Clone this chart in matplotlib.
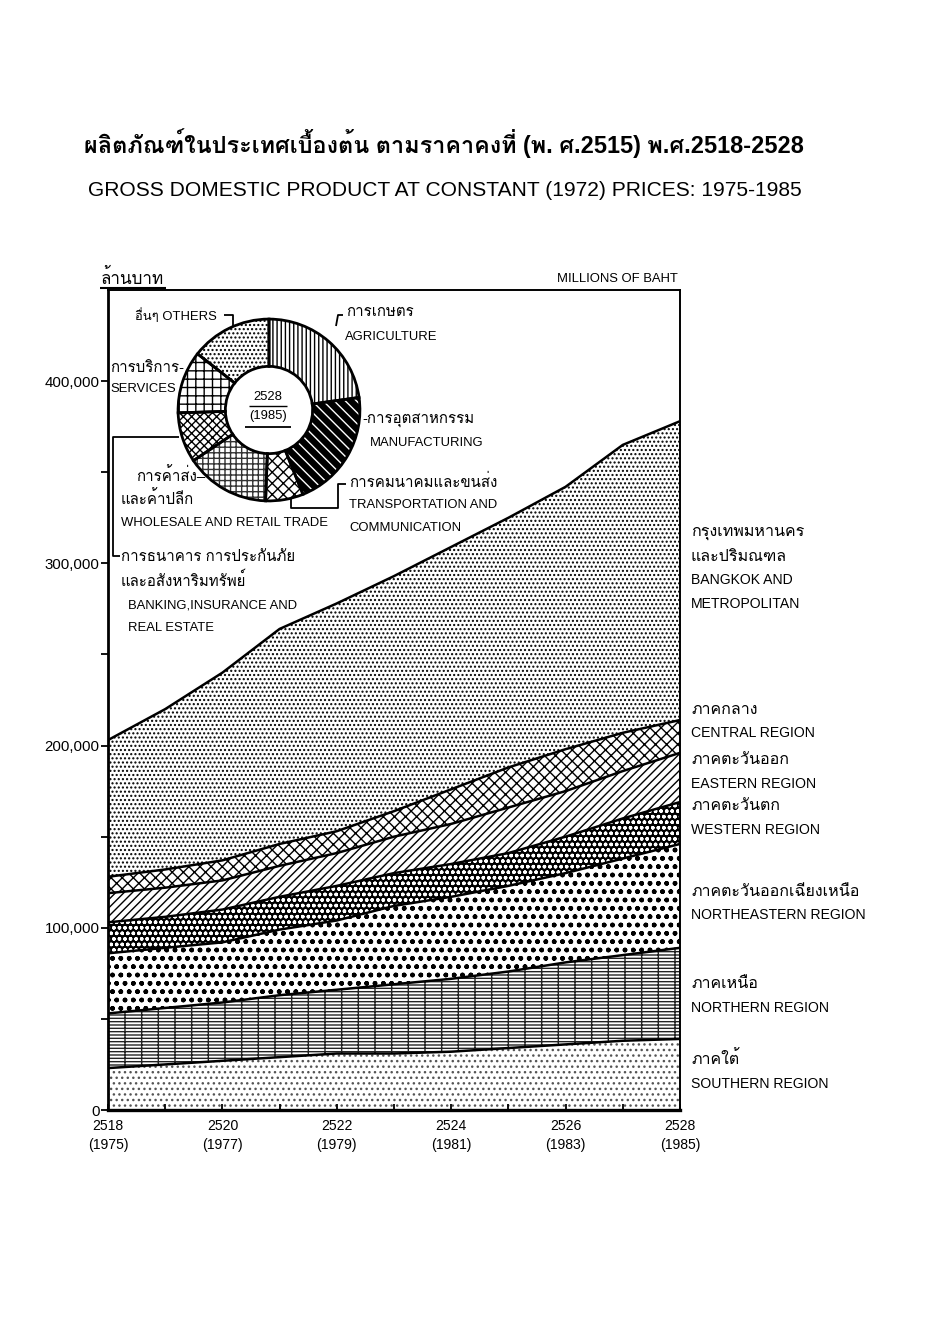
import numpy as np
import matplotlib
matplotlib.use("Agg")
import matplotlib.pyplot as plt
from matplotlib import font_manager as fm
from matplotlib.lines import Line2D
from matplotlib.patches import Wedge

# ---------------- data (millions of baht, constant 1972 prices) ----------------
years_be = [2518, 2519, 2520, 2521, 2522, 2523, 2524, 2525, 2526, 2527, 2528]
years_ce = [1975, 1976, 1977, 1978, 1979, 1980, 1981, 1982, 1983, 1984, 1985]

southern     = [23000, 25000, 27000, 29000, 31000, 31000, 32000, 34000, 36000, 38000, 39000]
northern     = [30000, 31000, 32000, 34000, 35000, 38000, 40000, 42000, 45000, 47000, 50000]
northeastern = [33000, 33000, 33000, 36000, 38000, 43000, 45000, 47000, 49000, 53000, 57000]
western      = [17000, 17000, 18000, 18000, 19000, 18000, 18000, 18000, 20000, 22000, 23000]
eastern      = [16000, 16000, 16000, 17000, 18000, 20000, 22000, 25000, 25000, 26000, 27000]
central      = [9000, 10000, 11000, 12000, 12000, 14000, 19000, 22000, 23000, 21000, 18000]
bangkok      = [75000, 88000, 103000, 118000, 125000, 129000, 133000, 137000, 144000, 158000, 164000]

region_th = ["ภาคใต้", "ภาคเหนือ", "ภาคตะวันออกเฉียงเหนือ", "ภาคตะวันตก",
             "ภาคตะวันออก", "ภาคกลาง", "กรุงเทพมหานคร\nและปริมณฑล"]
region_en = ["SOUTHERN REGION", "NORTHERN REGION", "NORTHEASTERN REGION", "WESTERN REGION",
             "EASTERN REGION", "CENTRAL REGION", "BANGKOK AND\nMETROPOLITAN"]

y_ticks = [0, 50000, 100000, 150000, 200000, 250000, 300000, 350000, 400000]
y_ticklabels = ["0", "", "100,000", "", "200,000", "", "300,000", "", "400,000"]

# 1985 (2528) sector shares, percent, clockwise from the top
sector_share = [22.8, 21.1, 6.7, 15.0, 8.9, 11.1, 14.4]
sector_th = ["การเกษตร", "การอุตสาหกรรม", "การคมนาคมและขนส่ง", "การค้าส่ง–\nและค้าปลีก",
             "การธนาคาร การประกันภัย\nและอสังหาริมทรัพย์", "การบริการ-", "อื่นๆ"]
sector_en = ["AGRICULTURE", "MANUFACTURING", "TRANSPORTATION AND\nCOMMUNICATION",
             "WHOLESALE AND RETAIL TRADE", "BANKING,INSURANCE AND\nREAL ESTATE", "SERVICES", "OTHERS"]

title_th = "ผลิตภัณฑ์ในประเทศเบื้องต้น ตามราคาคงที่ (พ. ศ.2515) พ.ศ.2518-2528"
title_en = "GROSS DOMESTIC PRODUCT AT CONSTANT (1972) PRICES: 1975-1985"

# ---------------- fonts ----------------
thai_fam = None
try:
    from matplotlib.ft2font import FT2Font
    for f in fm.fontManager.ttflist:
        try:
            ft = FT2Font(f.fname)
            if ft.get_char_index(0x0E01) and ft.get_char_index(0x0E32):
                thai_fam = f.name
                break
        except Exception:
            pass
except Exception:
    pass
FAM = ["Liberation Sans"] + ([thai_fam] if thai_fam else []) + ["DejaVu Sans"]
plt.rcParams["font.family"] = FAM
plt.rcParams["hatch.linewidth"] = 1.0

W, H, DPI = 941, 1337, 100
fig = plt.figure(figsize=(W / DPI, H / DPI), dpi=DPI, facecolor="white")


def pt(px):
    return px * 72.0 / DPI


def fx(x):
    return x / W


def fy(y):
    return 1 - y / H


def T(x, y, s, size=14, ha="left", va="center", **kw):
    fig.text(fx(x), fy(y), s, fontsize=pt(size), ha=ha, va=va, color="black", **kw)


def L(xs, ys, lw=1.3):
    fig.add_artist(Line2D([fx(v) for v in xs], [fy(v) for v in ys], color="black",
                          lw=lw, transform=fig.transFigure, solid_capstyle="butt"))


# ---------------- main stacked area ----------------
ax = fig.add_axes([fx(108), fy(1110), (680 - 108) / W, (1110 - 290) / H])
series = [southern, northern, northeastern, western, eastern, central, bangkok]
styles = [
    dict(facecolor="white", edgecolor="#555555", hatch="..."),      # southern
    dict(facecolor="white", edgecolor="#222222", hatch="-----|"),   # northern
    dict(facecolor="white", edgecolor="black", hatch="oo.."),       # northeastern
    dict(facecolor="black", edgecolor="white", hatch="ooo..."),     # western
    dict(facecolor="white", edgecolor="black", hatch="////"),       # eastern
    dict(facecolor="white", edgecolor="black", hatch="xxx"),        # central
    dict(facecolor="white", edgecolor="black", hatch="...."),       # bangkok
]
x = np.array(years_ce, dtype=float)
base = np.zeros(len(x))
tops = []
for vals, st in zip(series, styles):
    top = base + np.array(vals, dtype=float)
    ax.fill_between(x, base, top, linewidth=0, **st)
    tops.append(top)
    base = top
for top in tops:
    ax.plot(x, top, color="black", lw=1.8, solid_joinstyle="round")

ax.set_xlim(1975, 1985)
ax.set_ylim(0, 450000)
ax.set_yticks(y_ticks)
ax.set_yticklabels(y_ticklabels)
ax.set_xticks(years_ce)
ax.set_xticklabels([f"{b}\n({c})" if i % 2 == 0 else "" for i, (b, c) in enumerate(zip(years_be, years_ce))],
                   linespacing=1.5)
ax.tick_params(axis="y", direction="out", length=pt(7), width=1.3, labelsize=pt(15), pad=1)
ax.tick_params(axis="x", direction="in", length=pt(6), width=1.3, labelsize=pt(14), pad=pt(9))
for side, lw in [("left", 2.0), ("bottom", 2.4), ("top", 1.4), ("right", 1.4)]:
    ax.spines[side].set_linewidth(lw)

# ---------------- titles & axis captions ----------------
T(444, 143, title_th, size=23.5, ha="center", weight="bold")
T(445, 190, title_en, size=21, ha="center")
T(101, 277, "ล้านบาท", size=17)
L([100, 166], [288, 288], lw=1.5)
T(678, 279, "MILLIONS OF BAHT", size=13, ha="right")

# ---------------- region labels ----------------
lab_y = [(1059, 1084), (984, 1008), (891, 915), (806, 830), (760, 784), (710, 733), (532, 580)]
for (yt, ye), th, en in zip(lab_y, region_th, region_en):
    for k, line in enumerate(th.split("\n")):
        T(691, yt + 25 * k, line, size=16)
    for k, line in enumerate(en.split("\n")):
        T(691, ye + 24 * k, line, size=14)

# ---------------- donut (1985) ----------------
cx, cy, R = 269, 410, 91
pax = fig.add_axes([fx(cx - 100), fy(cy + 100), 200 / W, 200 / H])
wedges, _ = pax.pie(sector_share, startangle=90, counterclock=False, radius=1.0,
                    wedgeprops=dict(width=0.52, linewidth=0))
pie_styles = [
    dict(fc="white", ec="black", hatch="||||"),        # agriculture
    dict(fc="black", ec="white", hatch="\\\\\\"),      # manufacturing
    dict(fc="white", ec="black", hatch="xxx"),         # transport
    dict(fc="white", ec="#333333", hatch="+++"),       # trade
    dict(fc="white", ec="black", hatch="xxxx"),        # banking
    dict(fc="white", ec="black", hatch="++"),          # services
    dict(fc="white", ec="black", hatch="...."),        # others
]
for w, st in zip(wedges, pie_styles):
    w.set_facecolor(st["fc"])
    w.set_edgecolor(st["ec"])
    w.set_hatch(st["hatch"])
    pax.add_patch(Wedge(w.center, w.r, w.theta1, w.theta2, width=w.width,
                        fill=False, edgecolor="black", lw=2.0))
pax.set_xlim(-1.1, 1.1)
pax.set_ylim(-1.1, 1.1)
pax.axis("off")

T(268, 397, "2528", size=13, ha="center")
L([249, 287], [406, 406], lw=1.0)
T(268, 416, "(1985)", size=13, ha="center")
L([245, 291], [427, 427], lw=1.3)

# pie labels and leaders
T(135, 316, "อื่นๆ OTHERS", size=13)
L([224, 233, 233], [315, 315, 326])
T(346, 312, sector_th[0], size=15)
T(345, 337, sector_en[0], size=13)
L([343, 338, 336], [315, 315, 326])
T(110, 368, sector_th[5], size=15)
T(110, 389, sector_en[5], size=13)
T(362, 420, "-" + sector_th[1], size=15)
T(370, 443, sector_en[1], size=13)
T(136, 476, sector_th[3].split("\n")[0], size=15)
T(121, 499, sector_th[3].split("\n")[1], size=15)
T(121, 523, sector_en[3], size=13)
T(349, 482, sector_th[2], size=15)
T(349, 505, "TRANSPORTATION AND", size=13)
T(349, 528, "COMMUNICATION", size=13)
L([291, 291, 338, 338, 346], [497, 508, 508, 484, 484])
L([179, 113, 113, 120], [437, 437, 556, 556])
T(121, 557, sector_th[4].split("\n")[0], size=15)
T(121, 580, sector_th[4].split("\n")[1], size=15)
T(128, 605, "BANKING,INSURANCE AND", size=13)
T(128, 628, "REAL ESTATE", size=13)

fig.savefig("out.png", dpi=DPI, facecolor="white")
